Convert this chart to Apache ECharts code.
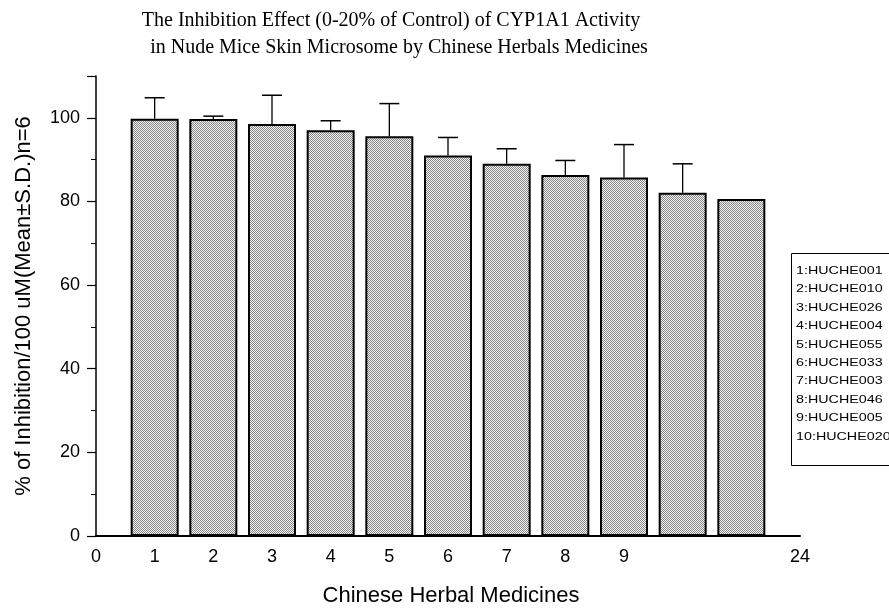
<!DOCTYPE html>
<html>
<head>
<meta charset="utf-8">
<script src="https://cdn.jsdelivr.net/npm/echarts@6/dist/echarts.min.js"></script>
<style>
html,body{margin:0;padding:0;background:#fff;}
#chart{width:889px;height:614px;}
</style>
</head>
<body>
<div id="chart"></div>
<script>
// ---- data ----
const barPositions = [1, 2, 3, 4, 5, 6, 7, 8, 9, 10, 11];
const meanValues = [99.8, 99.7, 98.5, 97.0, 95.6, 91.0, 89.0, 86.3, 85.7, 82.1, 80.6];
const sdValues = [5.0, 0.7, 6.9, 2.3, 7.8, 4.3, 3.6, 3.5, 7.9, 6.9, null];
const xTickLabels = ['0', '1', '2', '3', '4', '5', '6', '7', '8', '9', '', '', '24'];
const legendLabels = ['1:HUCHE001', '2:HUCHE010', '3:HUCHE026', '4:HUCHE004', '5:HUCHE055',
  '6:HUCHE033', '7:HUCHE003', '8:HUCHE046', '9:HUCHE005', '10:HUCHE020'];
const titleLines = ['The Inhibition Effect (0-20% of Control) of CYP1A1 Activity',
  'in Nude Mice Skin Microsome by Chinese Herbals Medicines'];
const yAxisTitle = '% of Inhibition/100 uM(Mean\u00B1S.D.)n=6';
const xAxisTitle = 'Chinese Herbal Medicines';

// stipple pattern
const tile = document.createElement('canvas');
tile.width = 2; tile.height = 2;
const tctx = tile.getContext('2d');
tctx.fillStyle = '#f4f4f4'; tctx.fillRect(0, 0, 2, 2);
tctx.fillStyle = '#858585'; tctx.fillRect(0, 0, 1, 1); tctx.fillRect(1, 1, 1, 1);

const barData = barPositions.map((p, i) => [p, meanValues[i]]);
const errData = barPositions.map((p, i) => [p, meanValues[i], sdValues[i]]).filter(d => d[2] != null);

const chart = echarts.init(document.getElementById('chart'), null, {renderer: 'canvas'});

const graphics = [{
  type: 'rect', left: 791, top: 253,
  shape: {width: 110, height: 212},
  style: {fill: '#fff', stroke: '#000', lineWidth: 1}
}];
legendLabels.forEach((t, i) => {
  graphics.push({
    type: 'text', x: 796, y: 271 + i * 18.4, scaleX: 1.3, scaleY: 1,
    style: {text: t, font: '11px "Liberation Sans", Arial, sans-serif', fill: '#000',
      textVerticalAlign: 'middle'}
  });
});
const titleCenters = [391, 399];
titleLines.forEach((t, i) => {
  graphics.push({
    type: 'text', x: titleCenters[i], y: 21 + i * 27,
    style: {text: t, font: '20px "Liberation Serif", "Times New Roman", serif', fill: '#000',
      textAlign: 'center', textVerticalAlign: 'middle'}
  });
});

chart.setOption({
  animation: false,
  backgroundColor: '#fff',
  grid: {left: 96, right: 89, top: 76, bottom: 78, containLabel: false},
  xAxis: {
    type: 'value', min: 0, max: 12, interval: 1,
    name: xAxisTitle, nameLocation: 'middle', nameGap: 49,
    nameTextStyle: {fontFamily: '"Liberation Sans", Arial, sans-serif', fontSize: 22, color: '#000', padding: [0, 0, 0, 6]},
    axisLine: {show: true, onZero: false, lineStyle: {color: '#000', width: 2}},
    axisTick: {show: false},
    splitLine: {show: false},
    axisLabel: {
      color: '#000', fontFamily: '"Liberation Sans", Arial, sans-serif', fontSize: 18, margin: 12,
      formatter: v => xTickLabels[Math.round(v)] || ''
    }
  },
  yAxis: {
    type: 'value', min: 0, max: 110, interval: 20,
    name: yAxisTitle, nameLocation: 'middle', nameGap: 61, nameRotate: 90,
    nameTextStyle: {fontFamily: '"Liberation Sans", Arial, sans-serif', fontSize: 22, color: '#000'},
    axisLine: {show: true, lineStyle: {color: '#000', width: 1.5}},
    axisTick: {show: true, inside: false, length: 9, lineStyle: {color: '#000', width: 1.2}},
    minorTick: {show: true, splitNumber: 2, length: 5, lineStyle: {color: '#000', width: 1}},
    splitLine: {show: false},
    axisLabel: {
      color: '#000', fontFamily: '"Liberation Sans", Arial, sans-serif', fontSize: 18, margin: 16,
      formatter: v => (v % 20 === 0 ? String(v) : '')
    }
  },
  graphic: graphics,
  series: [
    {
      type: 'bar', data: barData, barWidth: 48,
      itemStyle: {color: {image: tile, repeat: 'repeat'}, borderColor: '#000', borderWidth: 2}
    },
    {
      type: 'custom', data: errData, z: 3,
      renderItem: function (params, api) {
        const x = api.value(0), m = api.value(1), s = api.value(2);
        const p0 = api.coord([x, m]);
        const p1 = api.coord([x, m + s]);
        return {
          type: 'group', children: [
            {type: 'line', shape: {x1: p0[0], y1: p0[1], x2: p1[0], y2: p1[1]}, style: {stroke: '#000', lineWidth: 1.3}},
            {type: 'line', shape: {x1: p1[0] - 10, y1: p1[1], x2: p1[0] + 10, y2: p1[1]}, style: {stroke: '#000', lineWidth: 1.5}}
          ]
        };
      }
    }
  ]
});
</script>
</body>
</html>
